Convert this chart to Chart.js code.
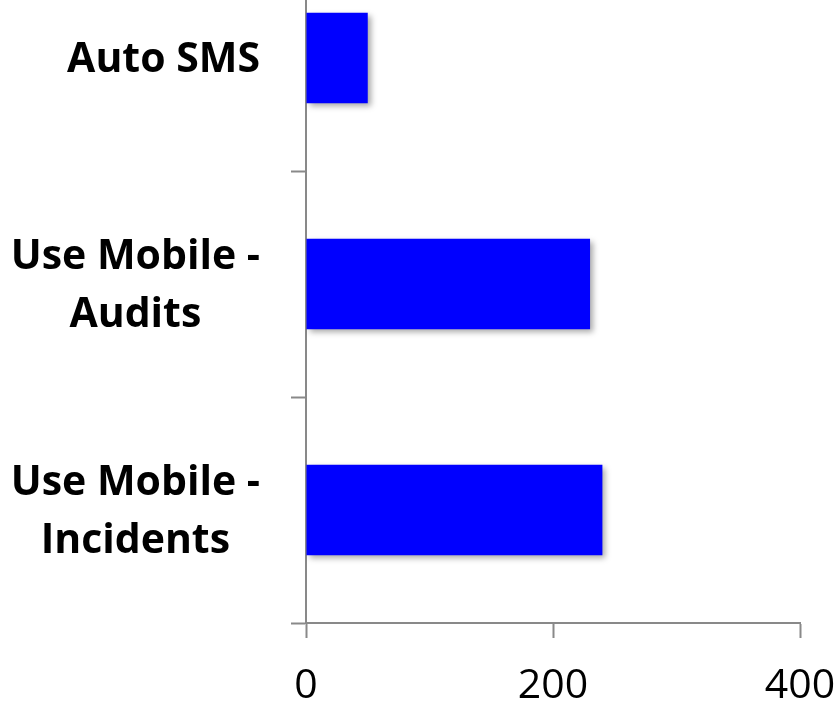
<!DOCTYPE html>
<html>
<head>
<meta charset="utf-8">
<script src="https://cdn.jsdelivr.net/npm/chart.js@4"></script>
<style>
  html, body { margin: 0; padding: 0; background: #fff; overflow: hidden; }
  body { width: 839px; height: 705px; position: relative; }
  #wrap { position: absolute; left: 0; top: -55px; width: 880px; height: 760px; }
</style>
</head>
<body>
<div id="wrap"><canvas id="barChart"></canvas></div>
<script>
// chart data
const categories = [['Use Mobile -', 'Incidents'], ['Use Mobile -', 'Audits'], ['Auto SMS']];
const usageValues = [240, 230, 50];
const xTicks = [0, 200, 400];

const axisGrey = '#898989';

// draws the category labels as a right-aligned block with centred lines
const categoryLabels = {
  id: 'categoryLabels',
  afterDraw(chart) {
    const ctx = chart.ctx;
    const yScale = chart.scales.y;
    const lineHeight = 58;
    const blockRight = 260;
    ctx.save();
    ctx.font = 'bold 41px "Open Sans"';
    ctx.fillStyle = '#000';
    ctx.textAlign = 'center';
    ctx.textBaseline = 'middle';
    categories.forEach((lines, i) => {
      const yMid = yScale.getPixelForValue(i) + 2;
      const widest = Math.max(...lines.map(l => ctx.measureText(l).width));
      const cx = blockRight - widest / 2;
      const startY = yMid - (lines.length - 1) * lineHeight / 2;
      lines.forEach((line, j) => ctx.fillText(line, cx, startY + j * lineHeight));
    });
    ctx.restore();
  }
};

// soft shadow behind the bars
const barShadow = {
  id: 'barShadow',
  beforeDatasetsDraw(chart) {
    const ctx = chart.ctx;
    ctx.save();
    ctx.shadowColor = 'rgba(0, 0, 0, 0.35)';
    ctx.shadowBlur = 6;
    ctx.shadowOffsetX = 3;
    ctx.shadowOffsetY = 3;
  },
  afterDatasetsDraw(chart) {
    chart.ctx.restore();
  }
};

const ctx = document.getElementById('barChart').getContext('2d');
new Chart(ctx, {
  type: 'bar',
  data: {
    labels: categories,
    datasets: [{
      data: usageValues,
      backgroundColor: '#0000ff',
      borderWidth: 0,
      barPercentage: 0.4,
      categoryPercentage: 1
    }]
  },
  options: {
    indexAxis: 'y',
    responsive: true,
    maintainAspectRatio: false,
    animation: false,
    layout: { padding: { left: 0, top: 0, right: 80, bottom: 0 } },
    plugins: {
      legend: { display: false },
      tooltip: { enabled: false }
    },
    scales: {
      x: {
        min: xTicks[0],
        max: xTicks[xTicks.length - 1],
        afterBuildTicks(scale) {
          scale.ticks = xTicks.map(v => ({ value: v }));
        },
        afterFit(scale) { scale.height = 82; },
        border: { color: axisGrey, width: 2 },
        grid: {
          drawOnChartArea: false,
          drawTicks: true,
          tickLength: 15,
          tickColor: axisGrey,
          tickWidth: 2
        },
        ticks: {
          color: '#000',
          font: { family: '"Open Sans"', size: 41 },
          padding: 24,
          maxRotation: 0
        }
      },
      y: {
        reverse: true,
        afterFit(scale) { scale.width = 306; },
        border: { color: axisGrey, width: 2 },
        grid: {
          drawOnChartArea: false,
          drawTicks: true,
          tickLength: 15,
          tickColor: axisGrey,
          tickWidth: 2
        },
        ticks: { display: false }
      }
    }
  },
  plugins: [barShadow, categoryLabels]
});
</script>
</body>
</html>
